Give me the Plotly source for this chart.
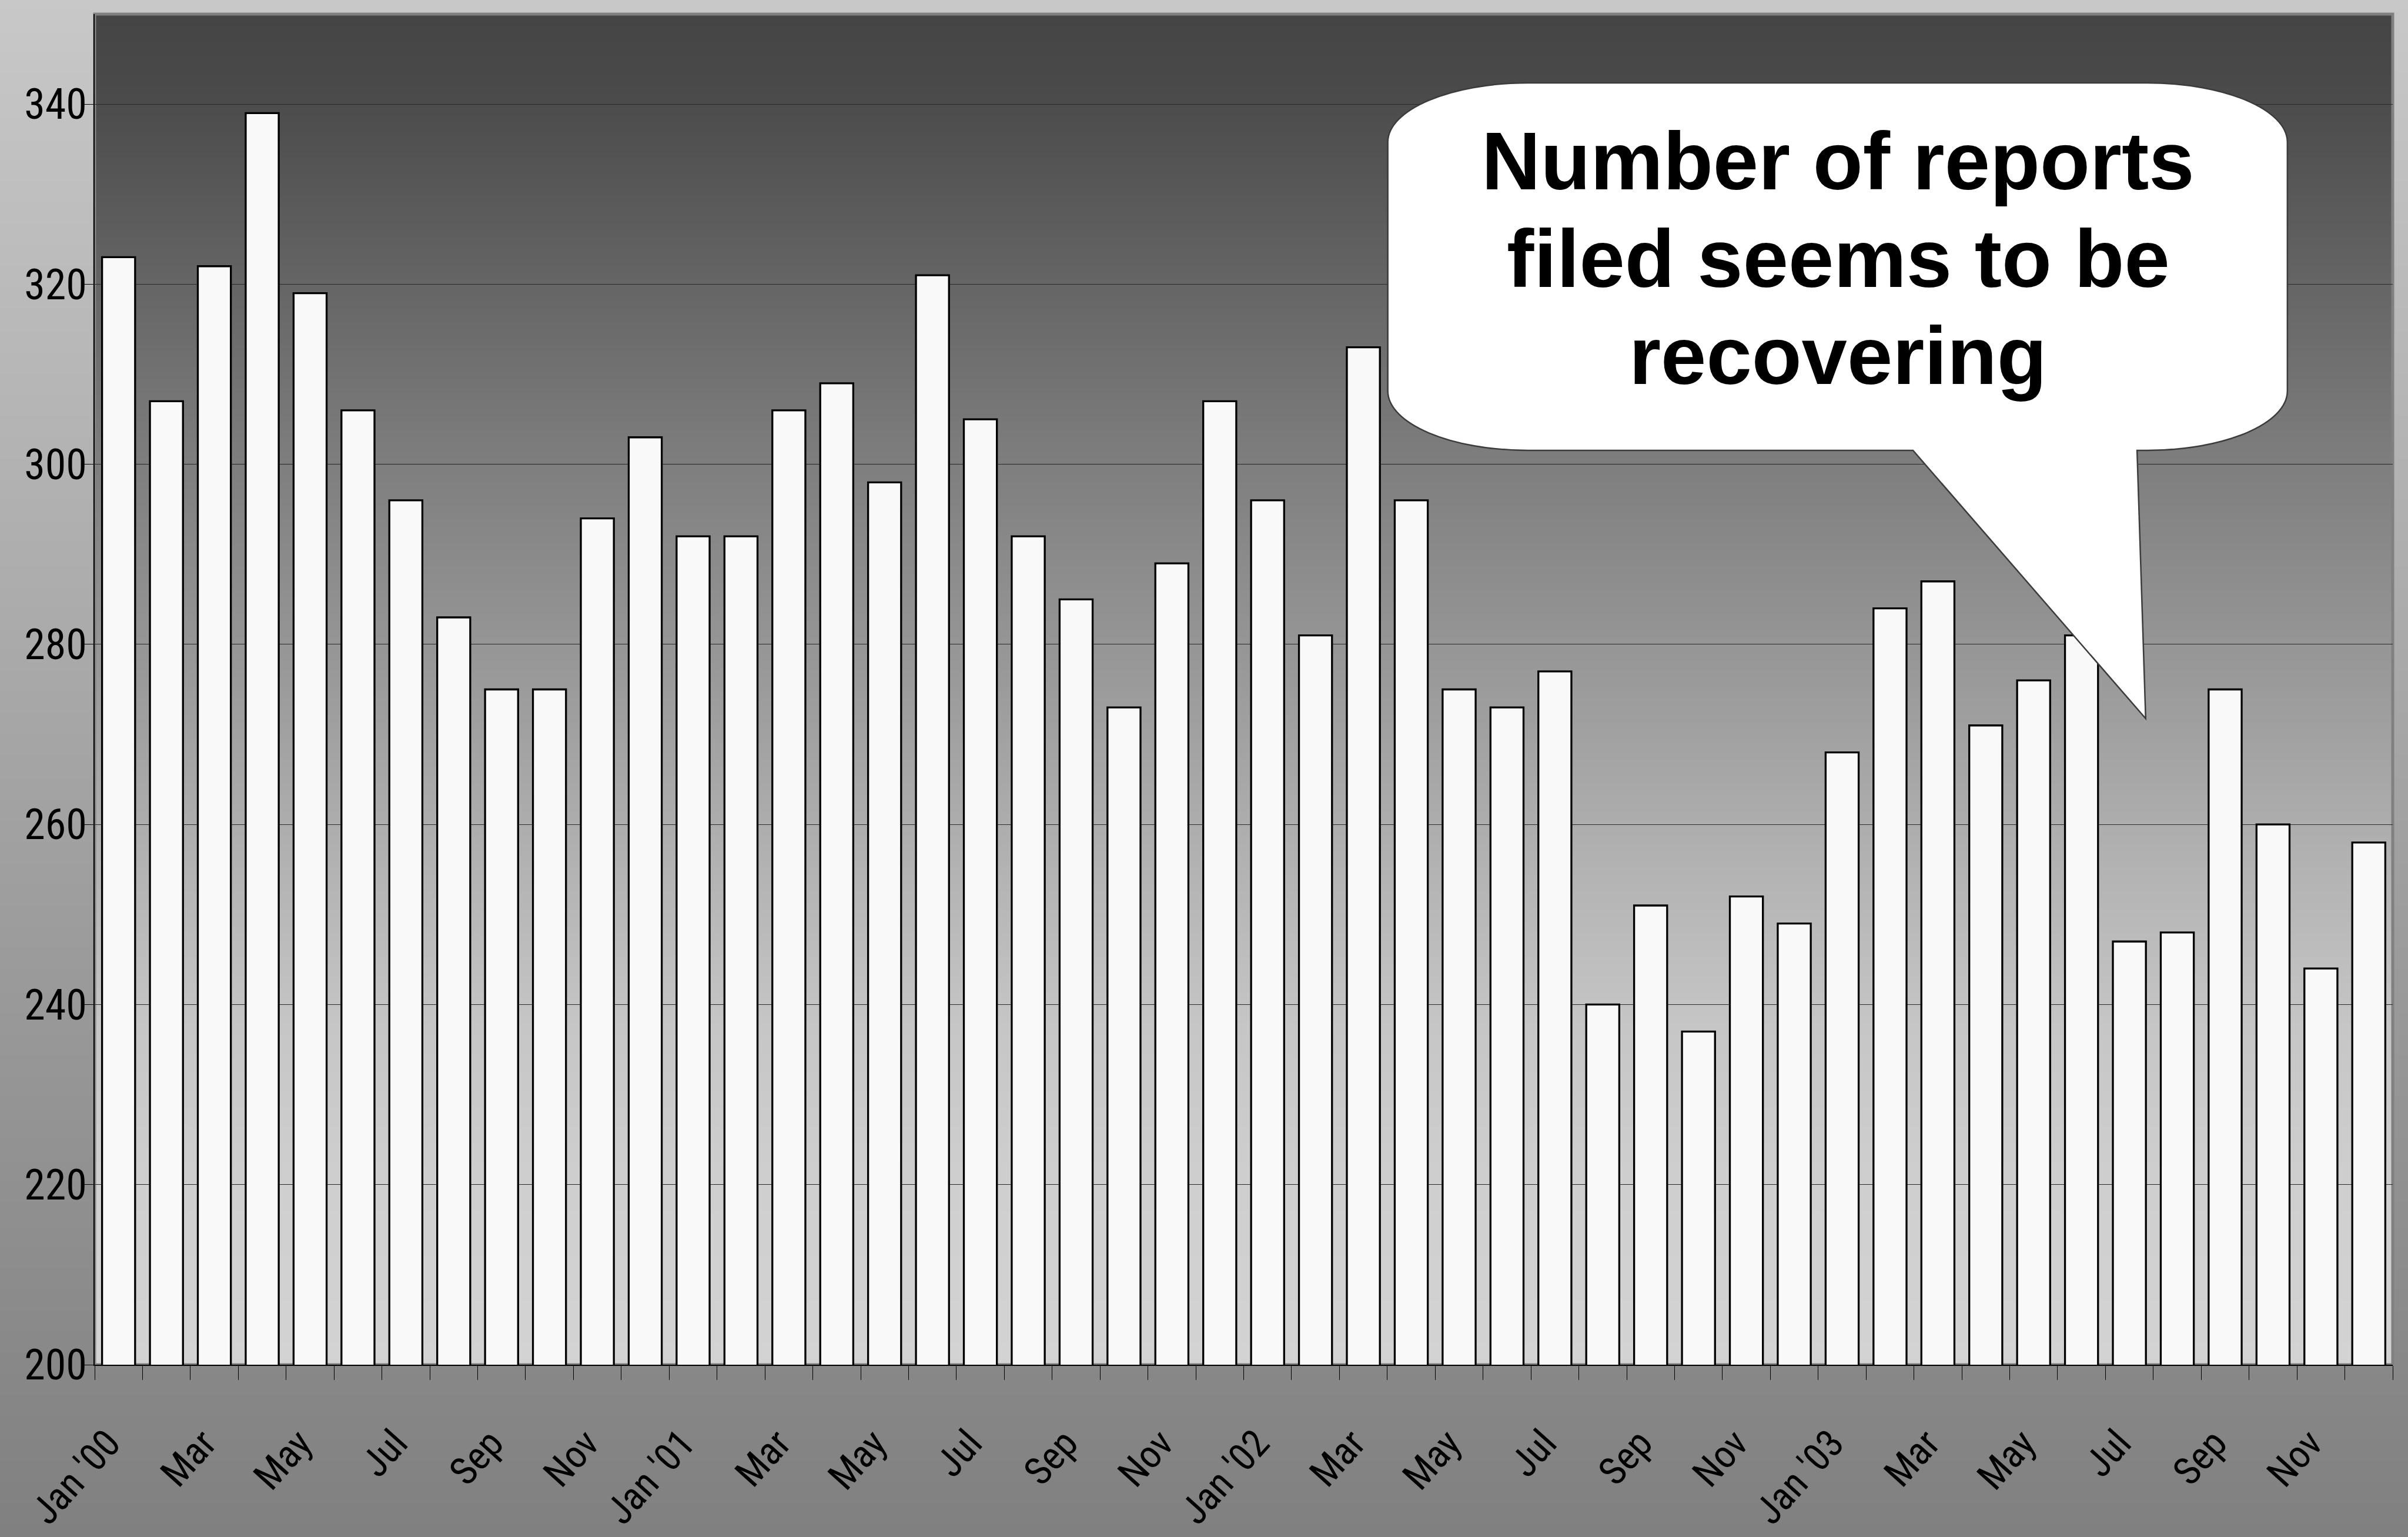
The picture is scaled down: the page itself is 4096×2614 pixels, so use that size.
import base64
import struct
import zlib

import plotly.graph_objects as go

# ---------------------------------------------------------------- data
years = ["2000", "2001", "2002", "2003"]
month_names = ["Jan", "Feb", "Mar", "Apr", "May", "Jun",
               "Jul", "Aug", "Sep", "Oct", "Nov", "Dec"]
periods = [f"{m} {y}" for y in years for m in month_names]

reports = [323, 307, 322, 339, 319, 306, 296, 283, 275, 275, 294, 303,
           292, 292, 306, 309, 298, 321, 305, 292, 285, 273, 289, 307,
           296, 281, 313, 296, 275, 273, 277, 240, 251, 237, 252, 249,
           268, 284, 287, 271, 276, 281, 247, 248, 275, 260, 244, 258]

tick_labels = ["Jan '00", "", "Mar", "", "May", "", "Jul", "", "Sep", "", "Nov", "",
               "Jan '01", "", "Mar", "", "May", "", "Jul", "", "Sep", "", "Nov", "",
               "Jan '02", "", "Mar", "", "May", "", "Jul", "", "Sep", "", "Nov", "",
               "Jan '03", "", "Mar", "", "May", "", "Jul", "", "Sep", "", "Nov", ""]

y_ticks = [200, 220, 240, 260, 280, 300, 320, 340]

callout_lines = ["Number of reports", "filed seems to be", "recovering"]

# ---------------------------------------------------------------- layout constants
W, H = 4096, 2614
M_L, M_R, M_T, M_B = 161, 26, 24, 293
PLOT_W = W - M_L - M_R
PLOT_H = H - M_T - M_B

AXIS_FONT = ("Liberation Sans Narrow, Arial Narrow, Roboto Condensed, "
             "Noto Sans Condensed, Liberation Sans, Arial, sans-serif")
CALLOUT_FONT = "Liberation Sans, Arial, Helvetica, sans-serif"


def gradient_png(stops, rows=512):
    """Vertical grey gradient as a PNG data URI (stops: (t, grey) from top)."""
    def grey_at(t):
        for (t0, g0), (t1, g1) in zip(stops[:-1], stops[1:]):
            if t <= t1:
                f = 0 if t1 == t0 else (t - t0) / (t1 - t0)
                return int(round(g0 + (g1 - g0) * f))
        return stops[-1][1]

    raw = bytearray()
    for r in range(rows):
        g = grey_at(r / (rows - 1))
        raw += b"\x00" + bytes([g, g, g, g, g, g])

    def chunk(tag, data):
        return (struct.pack(">I", len(data)) + tag + data
                + struct.pack(">I", zlib.crc32(tag + data) & 0xFFFFFFFF))

    png = (b"\x89PNG\r\n\x1a\n"
           + chunk(b"IHDR", struct.pack(">IIBBBBB", 2, rows, 8, 2, 0, 0, 0))
           + chunk(b"IDAT", zlib.compress(bytes(raw), 9))
           + chunk(b"IEND", b""))
    return "data:image/png;base64," + base64.b64encode(png).decode()


paper_grad = gradient_png([(0.0, 200), (1.0, 128)])
plot_grad = gradient_png([(0.0, 69), (0.05, 73), (0.33, 126), (0.47, 150),
                          (0.61, 175), (0.75, 198), (0.87, 207), (1.0, 211)])

# ---------------------------------------------------------------- callout bubble
BX0, BX1 = 26.51, 45.30        # left / right (category units)
BY0, BY1 = 301.55, 342.36      # bottom / top (value units)
RX, RY = 2.93, 6.6             # corner radii
TAIL_L, TAIL_R = 37.48, 42.16  # tail base
TIP_X, TIP_Y = 42.34, 271.76   # tail tip
K = 0.5523


def bubble_path():
    p = [
        f"M {BX0 + RX},{BY1}",
        f"L {BX1 - RX},{BY1}",
        f"C {BX1 - RX + K * RX},{BY1} {BX1},{BY1 - RY + K * RY} {BX1},{BY1 - RY}",
        f"L {BX1},{BY0 + RY}",
        f"C {BX1},{BY0 + RY - K * RY} {BX1 - RX + K * RX},{BY0} {BX1 - RX},{BY0}",
        f"L {TAIL_R},{BY0}",
        f"L {TIP_X},{TIP_Y}",
        f"L {TAIL_L},{BY0}",
        f"L {BX0 + RX},{BY0}",
        f"C {BX0 + RX - K * RX},{BY0} {BX0},{BY0 + RY - K * RY} {BX0},{BY0 + RY}",
        f"L {BX0},{BY1 - RY}",
        f"C {BX0},{BY1 - RY + K * RY} {BX0 + RX - K * RX},{BY1} {BX0 + RX},{BY1}",
        "Z",
    ]
    return " ".join(p)


# ---------------------------------------------------------------- figure
fig = go.Figure(
    go.Bar(
        x=periods,
        y=reports,
        marker=dict(color="#f9f9f9", line=dict(color="#000000", width=3.3)),
        hoverinfo="x+y",
    )
)

fig.update_layout(
    template="none",
    width=W,
    height=H,
    margin=dict(l=M_L, r=M_R, t=M_T, b=M_B, pad=0),
    paper_bgcolor="#a4a4a4",
    plot_bgcolor="rgba(0,0,0,0)",
    bargap=0.31,
    showlegend=False,
    images=[
        dict(source=paper_grad, xref="paper", yref="paper",
             x=-M_L / PLOT_W, y=1 + M_T / PLOT_H,
             sizex=W / PLOT_W, sizey=H / PLOT_H,
             xanchor="left", yanchor="top", sizing="stretch", layer="below"),
        dict(source=plot_grad, xref="paper", yref="paper",
             x=0, y=1, sizex=1, sizey=1,
             xanchor="left", yanchor="top", sizing="stretch", layer="below"),
    ],
    shapes=[
        # plot-area frame
        dict(type="rect", xref="paper", yref="paper", x0=0, x1=1, y0=0, y1=1,
             line=dict(color="#808080", width=5), fillcolor="rgba(0,0,0,0)",
             layer="below"),
        # speech bubble
        dict(type="path", xref="x", yref="y", path=bubble_path(),
             fillcolor="#ffffff", line=dict(color="#3c3c3c", width=2.5),
             layer="above"),
    ],
)

fig.update_xaxes(
    type="category",
    categoryorder="array",
    categoryarray=periods,
    range=[-0.5, len(periods) - 0.5],
    tickmode="array",
    tickvals=periods,
    ticktext=tick_labels,
    tickson="boundaries",
    ticks="outside",
    ticklen=24,
    tickwidth=1,
    tickcolor="#000000",
    tickangle=-48,
    tickfont=dict(family=AXIS_FONT, size=66, color="#000000"),
    ticklabelstandoff=66,
    ticklabelshift=-18,
    showline=True,
    linecolor="#000000",
    linewidth=2,
    showgrid=False,
    zeroline=False,
    automargin=False,
    fixedrange=True,
)

fig.update_yaxes(
    range=[200, 350],
    tickmode="array",
    tickvals=y_ticks,
    ticktext=[str(v) for v in y_ticks],
    ticks="outside",
    ticklen=16,
    tickwidth=1,
    tickcolor="#000000",
    tickfont=dict(family=AXIS_FONT, size=72, color="#000000"),
    ticklabelstandoff=-19,
    showline=True,
    linecolor="#000000",
    linewidth=1.5,
    showgrid=True,
    gridcolor="#2a2a2a",
    gridwidth=1,
    zeroline=False,
    automargin=False,
    fixedrange=True,
)

# callout text, one annotation per line
callout_x = 35.92
callout_y = [333.71, 322.87, 312.03]
for line, yv in zip(callout_lines, callout_y):
    fig.add_annotation(
        x=callout_x, y=yv, xref="x", yref="y",
        text=line, showarrow=False,
        xanchor="center", yanchor="middle",
        font=dict(family=CALLOUT_FONT, size=139, color="#000000", weight="bold"),
    )

fig.write_html("out.html")
